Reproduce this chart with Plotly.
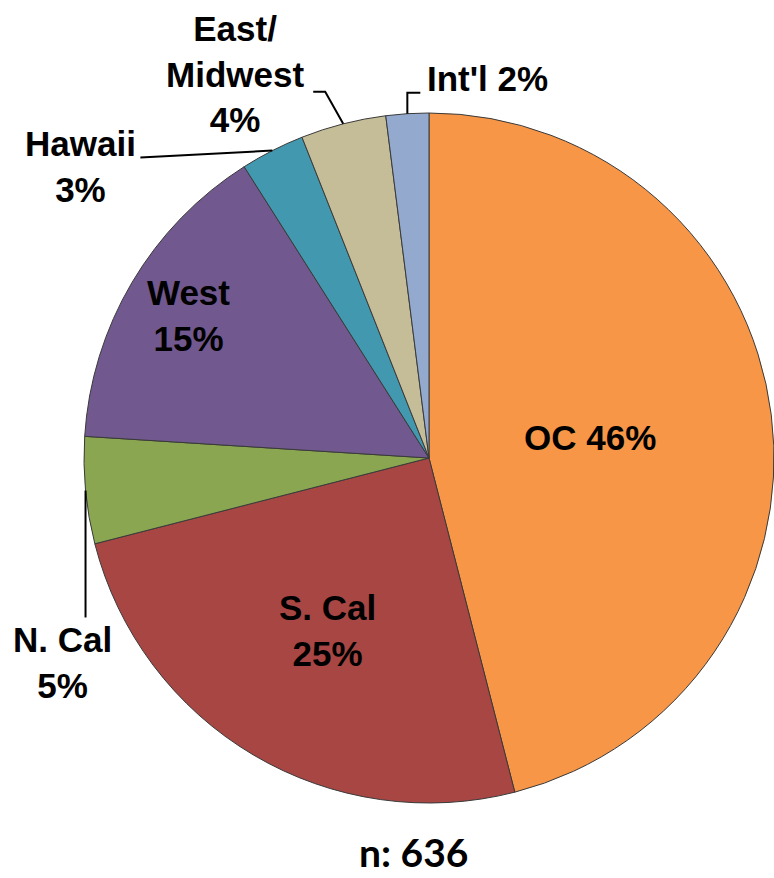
import math
import plotly.graph_objects as go

regions = ["OC", "S. Cal", "N. Cal", "West", "Hawaii", "East/<br>Midwest", "Int'l"]
shares = [46, 25, 5, 15, 3, 4, 2]
colors = ["#F79646", "#A84644", "#8AA650", "#71588F", "#4198AF", "#C4BD97", "#93A9CE"]
n_total = 636

W, H = 774, 878
cx, cy, R = 429, 458, 345  # pie centre / radius in pixels


def px(x):
    return x / W


def py(y):
    return 1 - y / H


fig = go.Figure(go.Pie(
    labels=regions, values=shares, sort=False, direction="clockwise", rotation=0,
    marker=dict(colors=colors, line=dict(color="#3a3a3a", width=1)),
    textinfo="none", hoverinfo="label+percent", showlegend=False,
    domain=dict(x=[px(cx - R), 1], y=[py(cy + R), py(cy - R)]),
))

# mid angle of every slice, clockwise from 12 o'clock
total = sum(shares)
mids = []
acc = 0
for v in shares:
    mids.append((acc + v / 2) / total * 360)
    acc += v


def on_pie(i, frac):
    a = math.radians(mids[i])
    return cx + frac * R * math.sin(a), cy - frac * R * math.cos(a)


lab_font = dict(family="Liberation Sans, Arial", size=35, color="black", weight="bold")


def label(x, y, txt, font=lab_font):
    fig.add_annotation(x=px(x), y=py(y), xref="paper", yref="paper", text=txt,
                       showarrow=False, font=font, align="center",
                       xanchor="center", yanchor="middle", borderpad=0)


# labels inside the slices: (slice, radius fraction, text)
inside = {0: (0.47, "OC 46%"), 1: (0.58, "S. Cal<br>25%"), 3: (0.81, "West<br>15%")}
for i, (fr, txt) in inside.items():
    label(*on_pie(i, fr), txt)

# outside labels with leader lines: elbow points (dx, dy from slice edge), label spot
outside = {
    2: ([(0, 127)], (-23, 172), "N. Cal<br>5%"),
    4: ([(-132, 7)], (-192, 16), "Hawaii<br>3%"),
    5: ([(-18, -32), (-30, -32)], (-108, -50), "East/<br>Midwest<br>4%"),
    6: ([(0, -21), (13, -21)], (80, -35), "Int'l 2%"),
}
for i, (pts, (lx, ly), txt) in outside.items():
    x0, y0 = on_pie(i, 1.0)
    path = f"M {px(x0)} {py(y0)}"
    for dx, dy in pts:
        path += f" L {px(x0 + dx)} {py(y0 + dy)}"
    fig.add_shape(type="path", path=path, xref="paper", yref="paper",
                  line=dict(color="black", width=2))
    label(x0 + lx, y0 + ly, txt)

label(413, 852, f"n: {n_total}",
      dict(family="Lato, Open Sans", size=39, color="black", weight="bold"))

fig.update_layout(width=W, height=H, margin=dict(l=0, r=0, t=0, b=0),
                  paper_bgcolor="white", plot_bgcolor="white")

fig.write_html("out.html", config={"displayModeBar": False},
               post_script="document.body.style.margin='0';")
